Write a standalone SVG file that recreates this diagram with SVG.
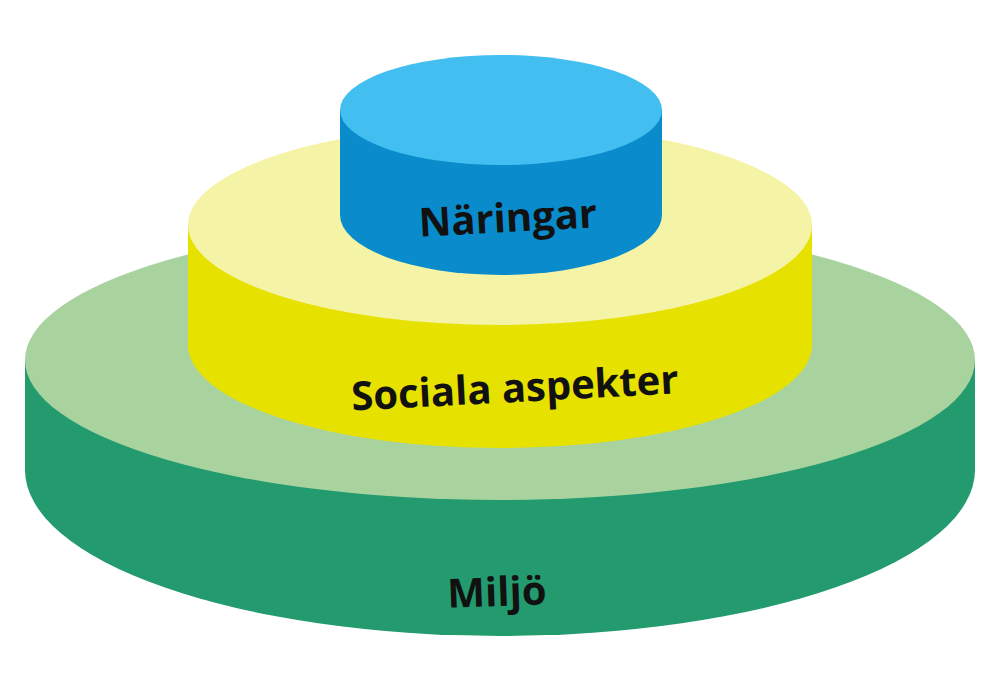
<svg xmlns="http://www.w3.org/2000/svg" width="999" height="680" viewBox="0 0 999 680">
<style>
text{font-family:"Open Sans","Liberation Sans",sans-serif;font-weight:bold;font-size:40px;fill:#111;text-anchor:middle}
</style>
<rect width="999" height="680" fill="#fff"/>
<g id="miljo">
<path d="M25,360 L25,470 A475,166 0 0 0 975,470 L975,360 Z" fill="#239b6e"/>
<ellipse cx="500" cy="360" rx="475" ry="140" fill="#a9d39e"/>
<text x="497" y="606" transform="rotate(-2 497 595)">Miljö</text>
</g>
<g id="sociala">
<path d="M188,225 L188,345 A312,103 0 0 0 812,345 L812,225 Z" fill="#e7e100"/>
<ellipse cx="500" cy="225" rx="312" ry="100" fill="#f5f3a5"/>
<text x="515" y="402" transform="rotate(-3 515 390)">Sociala aspekter</text>
</g>
<g id="naringar">
<path d="M340,110 L340,215 A161,60 0 0 0 662,215 L662,110 Z" fill="#0a8ccc"/>
<ellipse cx="501" cy="110" rx="161" ry="55" fill="#42bff0"/>
<text x="508" y="232" transform="rotate(-3 508 220)">Näringar</text>
</g>
<g id="connectors"/>
</svg>
